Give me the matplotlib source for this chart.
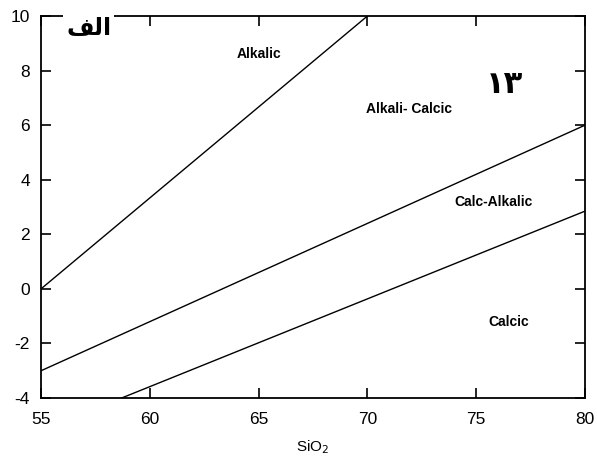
import numpy as np
import matplotlib.pyplot as plt

# boundary lines (SiO2, y) end points
alkalic_x = [55, 70]
alkalic_y = [0, 10]
alkcalc_x = [55, 80]
alkcalc_y = [-3, 6]
calcalk_x = [58.7, 80]
calcalk_y = [-4, 2.85]

field_names = ['Alkalic', 'Alkali- Calcic', 'Calc-Alkalic', 'Calcic']
field_x = [65.0, 71.9, 75.8, 76.5]
field_y = [8.6, 6.6, 3.2, -1.2]

plt.rcParams['font.family'] = ['Liberation Sans', 'DejaVu Sans']
plt.rcParams['axes.unicode_minus'] = False

fig = plt.figure(figsize=(5.97, 4.57), dpi=100)
ax = fig.add_axes([0.0687, 0.129, 0.9113, 0.836])

for xs, ys in [(alkalic_x, alkalic_y), (alkcalc_x, alkcalc_y), (calcalk_x, calcalk_y)]:
    ax.plot(xs, ys, color='black', lw=1.0)

for name, x, y in zip(field_names, field_x, field_y):
    ax.text(x, y, name, ha='center', va='center', fontsize=10, fontweight='bold')

# persian labels (pre-shaped presentation forms, visual order)
ax.text(57.2, 9.55, '\uFED2\uFEDF\uFE8D', family='DejaVu Sans', fontsize=17,
        fontweight='bold', ha='center', va='center',
        bbox=dict(facecolor='white', edgecolor='none', pad=2), zorder=5)
ax.text(76.3, 7.5, '\u06F1\u06F3', family='DejaVu Sans', fontsize=22,
        fontweight='bold', ha='center', va='center')

ax.set_xlim(55, 80)
ax.set_ylim(-4, 10)
ax.set_xticks(np.arange(55, 81, 5))
ax.set_yticks(np.arange(-4, 11, 2))
ax.tick_params(direction='in', top=True, right=True, length=7, width=1.2, labelsize=12.5)
ax.tick_params(axis='x', pad=10)
ax.tick_params(axis='y', pad=8)
for s in ax.spines.values():
    s.set_linewidth(1.3)
ax.set_xlabel('SiO$_2$', fontsize=11, labelpad=8)

fig.savefig('out.png', dpi=100)
